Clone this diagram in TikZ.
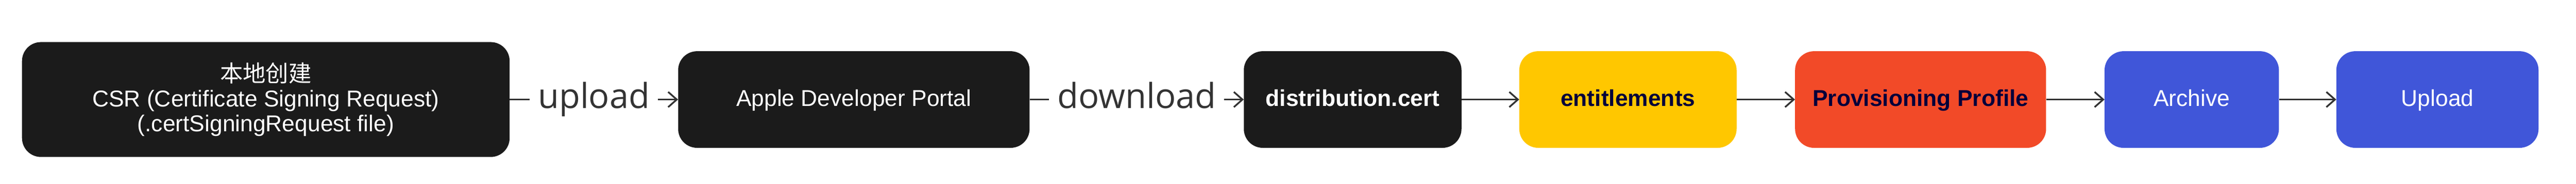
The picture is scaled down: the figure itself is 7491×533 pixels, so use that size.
\documentclass[tikz,border=0pt]{standalone}
\usepackage{fontspec}
\setmainfont{Liberation Sans}
\newfontfamily\cjk{Noto Sans CJK SC}
\newfontfamily\labelfont{Open Sans}
\usetikzlibrary{arrows.meta}
\definecolor{boxblack}{HTML}{1B1B1B}
\definecolor{boxyellow}{HTML}{FFC700}
\definecolor{boxred}{HTML}{F24A28}
\definecolor{boxblue}{HTML}{4056D9}
\definecolor{navytext}{HTML}{03013A}
\definecolor{edgegray}{HTML}{333333}
\begin{document}
\begin{tikzpicture}[x=1pt,y=1pt,
  box/.style={rectangle, rounded corners=55pt, inner sep=0pt, minimum height=280pt,
    font=\fontsize{66.5}{72.5}\selectfont, align=center},
  oneline/.style={text height=52pt, text depth=13pt},
  darkbox/.style={box, fill=boxblack, text=white},
  yellowbox/.style={box, oneline, fill=boxyellow, text=navytext, font=\fontsize{66.5}{72.5}\selectfont\bfseries},
  redbox/.style={box, oneline, fill=boxred, text=navytext, font=\fontsize{66.5}{72.5}\selectfont\bfseries},
  bluebox/.style={box, oneline, fill=boxblue, text=white},
  flow/.style={draw=edgegray, line width=5pt, -{Straight Barb[length=25pt,width=44pt]}},
  elabel/.style={fill=white, text=edgegray, font=\labelfont\fontsize{100}{110}\selectfont,
    inner xsep=24pt, inner ysep=4pt, text height=76pt, text depth=25pt}]
\useasboundingbox (0,0) rectangle (7491,533);
\node[darkbox, minimum width=1418pt, minimum height=333pt] (csr) at (773,244.5)
  {{\cjk 本地创建}\\CSR (Certificate Signing Request)\\(.certSigningRequest file)};
\node[darkbox, oneline, minimum width=1022pt] (portal) at (2483,244.5) {Apple Developer Portal};
\node[darkbox, oneline, minimum width=633pt, font=\fontsize{66.5}{72.5}\selectfont\bfseries] (cert) at (3933.5,244.5) {distribution.cert};
\node[yellowbox, minimum width=632pt] (ent) at (4734,244.5) {entitlements};
\node[redbox, minimum width=730pt] (prof) at (5585,244.5) {Provisioning Profile};
\node[bluebox, minimum width=507pt] (arch) at (6373.5,244.5) {Archive};
\node[bluebox, minimum width=588pt] (upl) at (7088,244.5) {Upload};
\draw[flow] (csr) -- node[elabel] {upload} (portal);
\draw[flow] (portal) -- node[elabel] {download} (cert);
\draw[flow] (cert) -- (ent);
\draw[flow] (ent) -- (prof);
\draw[flow] (prof) -- (arch);
\draw[flow] (arch) -- (upl);
\end{tikzpicture}
\end{document}
